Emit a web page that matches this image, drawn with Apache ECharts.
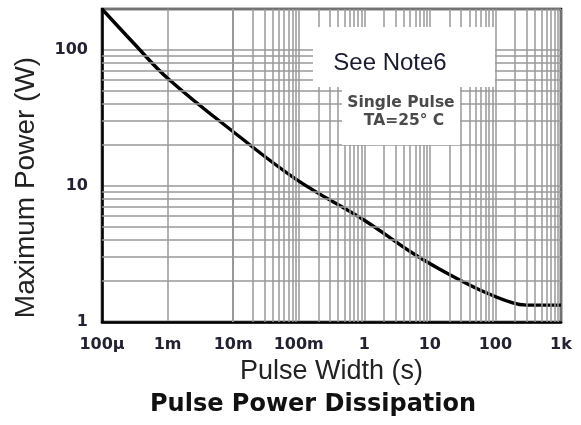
<!DOCTYPE html>
<html><head><meta charset="utf-8">
<script src="https://cdn.jsdelivr.net/npm/echarts@6/dist/echarts.min.js"></script>
<style>html,body{margin:0;padding:0;background:#fff}#c{width:581px;height:425px}</style>
</head><body><div id="c"></div>
<script>
// Curve: pulse width (s) vs maximum power (W)
const pulseWidth = [1e-4, 3e-4, 1e-3, 0.0127, 0.094, 1, 5.5, 18, 58, 184, 300, 1000];
const maxPower   = [200, 113, 62, 22.9, 11.1, 5.6, 3.2, 2.29, 1.72, 1.38, 1.33, 1.33];
// Tick labels
const xTickLabels = ['100µ', '1m', '10m', '100m', '1', '10', '100', '1k'];
const yTickLabels = ['1', '10', '100'];
// Minor grid multipliers per decade
const minorMult = [2, 3, 4, 5, 6, 7, 8, 9];
const xDecades = [-4, -3, -2, -1, 0, 1, 2];
const yDecades = [0, 1];

const xMinor = [], yMinor = [];
xDecades.forEach(e => minorMult.forEach(m => xMinor.push(m * Math.pow(10, e))));
yDecades.forEach(e => minorMult.forEach(m => yMinor.push(m * Math.pow(10, e))));

function decadeLabel(v, labels, offset) {
  const l = Math.log10(v), r = Math.round(l);
  if (Math.abs(l - r) > 1e-6) return '';
  return labels[r + offset] || '';
}

const gridColor = '#999999';
const gridWidth = 1.5;
const chart = echarts.init(document.getElementById('c'), null, {renderer: 'canvas'});
chart.setOption({
  animation: false,
  backgroundColor: '#fff',
  title: {
    text: 'Pulse Power Dissipation', left: 150, top: 393, padding: 0,
    textStyle: {fontFamily: 'DejaVu Sans', fontWeight: 'bold', fontSize: 24, color: '#111'}
  },
  grid: {left: 102, right: 20, top: 9, bottom: 103, show: true, borderColor: '#000', borderWidth: 2.5, backgroundColor: '#fff'},
  xAxis: {
    type: 'log', logBase: 10, min: 1e-4, max: 1000,
    axisLine: {show: true, lineStyle: {color: '#000', width: 2.5}},
    axisTick: {show: false},
    splitLine: {show: true, lineStyle: {color: gridColor, width: gridWidth}},
    axisLabel: {
      formatter: v => decadeLabel(v, xTickLabels, 4),
      color: '#222233', fontFamily: 'DejaVu Sans', fontWeight: 'bold', fontSize: 16, margin: 15
    },
    name: 'Pulse Width (s)', nameLocation: 'middle', nameGap: 36,
    nameTextStyle: {fontFamily: 'Liberation Sans', fontSize: 27, color: '#222'}
  },
  yAxis: {
    type: 'log', logBase: 10, min: 1, max: 200,
    axisLine: {show: true, lineStyle: {color: '#000', width: 2.5}},
    axisTick: {show: false},
    splitLine: {show: true, lineStyle: {color: gridColor, width: gridWidth}},
    axisLabel: {
      formatter: v => decadeLabel(v, yTickLabels, 0),
      color: '#222233', fontFamily: 'DejaVu Sans', fontWeight: 'bold', fontSize: 16, margin: 14
    },
    name: 'Maximum Power (W)', nameLocation: 'middle', nameGap: 62,
    nameTextStyle: {fontFamily: 'Liberation Sans', fontSize: 28, color: '#222', padding: [0, 44, 0, 0]}
  },
  series: [
    {
      type: 'line', z: 1, silent: true, showSymbol: false,
      data: pulseWidth.map((t, i) => [t, maxPower[i]]),
      lineStyle: {opacity: 0},
      markLine: {
        silent: true, symbol: ['none', 'none'], label: {show: false},
        lineStyle: {color: gridColor, width: gridWidth, type: 'solid'},
        data: xMinor.map(v => ({xAxis: v})).concat(yMinor.map(v => ({yAxis: v})))
      }
    },
    {
      type: 'line', z: 3, symbol: 'none', smooth: 0.4,
      data: pulseWidth.map((t, i) => [t, maxPower[i]]),
      lineStyle: {color: '#000', width: 3.4}
    }
  ],
  graphic: [
    {type: 'rect', z: 100, shape: {x: 313, y: 27, width: 182, height: 60}, style: {fill: '#fff'}},
    {type: 'rect', z: 100, shape: {x: 342, y: 87, width: 118, height: 58}, style: {fill: '#fff'}},
    {type: 'text', z: 101, x: 390, y: 63, style: {text: 'See Note6', font: '24px "Liberation Sans"', fill: '#1a1a30', align: 'center', verticalAlign: 'middle'}},
    {type: 'text', z: 101, x: 401, y: 103, style: {text: 'Single Pulse', font: 'bold 15.5px "DejaVu Sans"', fill: '#4a4a4a', align: 'center', verticalAlign: 'middle'}},
    {type: 'text', z: 101, x: 404, y: 121, style: {text: 'TA=25° C', font: 'bold 15.5px "DejaVu Sans"', fill: '#4a4a4a', align: 'center', verticalAlign: 'middle'}}
  ]
});
</script>
</body></html>
